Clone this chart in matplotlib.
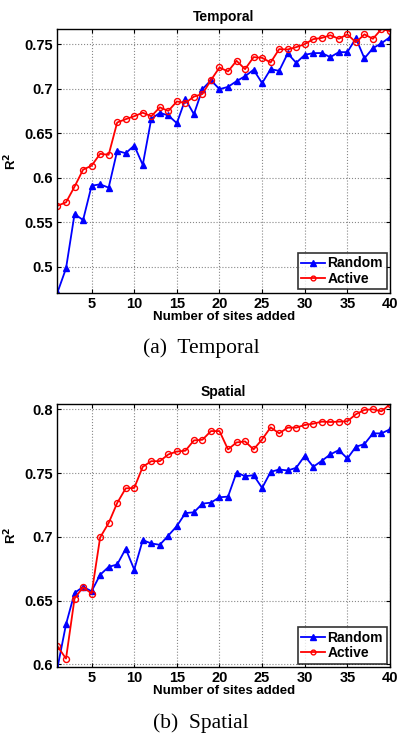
import matplotlib
matplotlib.use("Agg")
import matplotlib.pyplot as plt
from matplotlib.ticker import FixedLocator, FixedFormatter

sites = list(range(1, 41))

temporal_random = [0.4712, 0.4981, 0.5592, 0.5524, 0.5910, 0.5925, 0.5888, 0.6301, 0.6275, 0.6361,
                   0.6144, 0.6661, 0.6728, 0.6699, 0.6612, 0.6882, 0.6713, 0.6994, 0.7095, 0.6994,
                   0.7020, 0.7084, 0.7140, 0.7212, 0.7062, 0.7219, 0.7200, 0.7395, 0.7290, 0.7380,
                   0.7399, 0.7400, 0.7354, 0.7410, 0.7410, 0.7567, 0.7340, 0.7455, 0.7510, 0.7579]
temporal_active = [0.5685, 0.5723, 0.5899, 0.6090, 0.6135, 0.6268, 0.6257, 0.6620, 0.6657, 0.6690,
                   0.6730, 0.6690, 0.6790, 0.6750, 0.6856, 0.6840, 0.6910, 0.6940, 0.7096, 0.7238,
                   0.7193, 0.7313, 0.7219, 0.7354, 0.7346, 0.7294, 0.7444, 0.7440, 0.7466, 0.7500,
                   0.7556, 0.7570, 0.7600, 0.7560, 0.7610, 0.7520, 0.7610, 0.7560, 0.7670, 0.7646]

spatial_random = [0.5974, 0.6314, 0.6560, 0.6607, 0.6573, 0.6702, 0.6764, 0.6783, 0.6906, 0.6743,
                  0.6974, 0.6948, 0.6937, 0.7010, 0.7084, 0.7186, 0.7192, 0.7260, 0.7268, 0.7310,
                  0.7315, 0.7504, 0.7475, 0.7483, 0.7383, 0.7509, 0.7528, 0.7520, 0.7541, 0.7635,
                  0.7549, 0.7596, 0.7646, 0.7680, 0.7614, 0.7706, 0.7727, 0.7811, 0.7811, 0.7843]
spatial_active = [0.6141, 0.6045, 0.6516, 0.6605, 0.6555, 0.6995, 0.7108, 0.7265, 0.7380, 0.7383,
                  0.7549, 0.7593, 0.7593, 0.7646, 0.7669, 0.7675, 0.7756, 0.7761, 0.7829, 0.7829,
                  0.7685, 0.7740, 0.7748, 0.7685, 0.7764, 0.7858, 0.7811, 0.7856, 0.7856, 0.7877,
                  0.7887, 0.7903, 0.7900, 0.7903, 0.7906, 0.7961, 0.7995, 0.8000, 0.7984, 0.8039]

x_ticks = [5, 10, 15, 20, 25, 30, 35, 40]
temporal_yticks = [0.5, 0.55, 0.6, 0.65, 0.7, 0.75]
temporal_ylabels = ["0.5", "0.55", "0.6", "0.65", "0.7", "0.75"]
spatial_yticks = [0.6, 0.65, 0.7, 0.75, 0.8]
spatial_ylabels = ["0.6", "0.65", "0.7", "0.75", "0.8"]

plt.rcParams['font.family'] = ['Liberation Sans', 'DejaVu Sans']

W, H = 398, 738
fig = plt.figure(figsize=(W / 100, H / 100), dpi=100)

def make_axes(top, bottom, left=57.5, right=390):
    return fig.add_axes([left / W, 1 - bottom / H, (right - left) / W, (bottom - top) / H])

panels = [
    (29, 292.7, "Temporal", temporal_random, temporal_active, (0.4708, 0.767),
     temporal_yticks, temporal_ylabels, "(a)  Temporal", 348),
    (404.3, 667, "Spatial", spatial_random, spatial_active, (0.5979, 0.8039),
     spatial_yticks, spatial_ylabels, "(b)  Spatial", 723),
]

for top, bottom, title, rnd, act, ylim, yt, yl, cap, capy in panels:
    ax = make_axes(top, bottom)
    ax.plot(sites, rnd, color='#0000ff', lw=1.3, marker='^', ms=5, mfc='#0000ff',
            mec='#0000ff', label='Random')
    ax.plot(sites, act, color='#ff0000', lw=1.3, marker='o', ms=4.3, mfc='none',
            mec='#ff0000', mew=1.0, label='Active')
    ax.set_xlim(1, 40)
    ax.set_ylim(*ylim)
    ax.xaxis.set_major_locator(FixedLocator(x_ticks))
    ax.yaxis.set_major_locator(FixedLocator(yt))
    ax.yaxis.set_major_formatter(FixedFormatter(yl))
    ax.grid(True, linestyle=':', color='#888888', lw=0.8)
    ax.tick_params(direction='in', top=True, right=True, length=3, width=0.8,
                   labelsize=10.5, pad=3)
    for lab in ax.get_xticklabels() + ax.get_yticklabels():
        lab.set_fontweight('bold')
    for s in ax.spines.values():
        s.set_linewidth(1.0)
    ax.set_title(title, fontsize=10, fontweight='bold', pad=6)
    ax.set_xlabel("Number of sites added", fontsize=9.5, fontweight='bold', labelpad=0)
    ax.set_ylabel("R$^\\mathbf{2}$", fontsize=9.5, fontweight='bold', labelpad=4)
    leg = ax.legend(loc='lower right', prop={'weight': 'bold', 'size': 10},
                    frameon=True, fancybox=False, borderaxespad=0.25, handlelength=1.7,
                    handletextpad=0.2, borderpad=0.25, labelspacing=0.1, numpoints=1,
                    markerscale=0.8)
    leg.get_frame().set_edgecolor('black')
    leg.get_frame().set_linewidth(1.2)
    fig.text(201 / W, 1 - capy / H, cap, ha='center', va='center', fontsize=15.5,
             family=['Liberation Serif', 'DejaVu Serif'])

fig.savefig("out.png", dpi=100)
